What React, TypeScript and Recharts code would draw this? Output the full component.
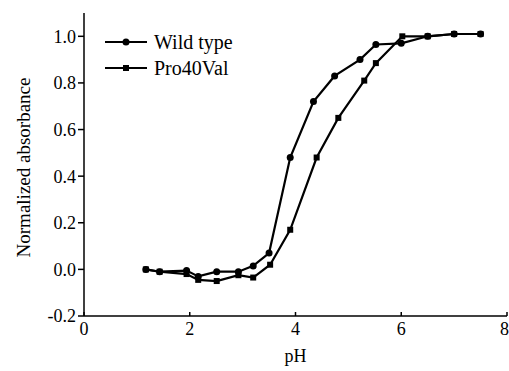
import { Label, Legend, Line, LineChart, XAxis, YAxis } from "recharts";

const wildPh = [1.17, 1.43, 1.94, 2.16, 2.51, 2.92, 3.2, 3.5, 3.9, 4.34, 4.74, 5.22, 5.52, 6.0, 6.5, 7.0, 7.5];
const wildAbs = [0.0, -0.01, -0.005, -0.03, -0.01, -0.01, 0.015, 0.07, 0.48, 0.72, 0.83, 0.9, 0.965, 0.97, 1.0, 1.01, 1.01];

const proPh = [1.17, 1.43, 1.94, 2.16, 2.51, 2.92, 3.2, 3.52, 3.9, 4.4, 4.81, 5.3, 5.52, 6.02, 6.5, 7.0, 7.5];
const proAbs = [0.0, -0.01, -0.02, -0.045, -0.05, -0.025, -0.035, 0.02, 0.17, 0.48, 0.65, 0.81, 0.885, 1.0, 1.0, 1.01, 1.01];

const xTicks = [0, 2, 4, 6, 8];
const yTicks = [-0.2, 0, 0.2, 0.4, 0.6, 0.8, 1.0];
const seriesNames = ["Wild type", "Pro40Val"];

const wildRows = wildPh.map((ph, i) => ({ ph, v: wildAbs[i] }));
const proRows = proPh.map((ph, i) => ({ ph, v: proAbs[i] }));

const FONT = "Liberation Serif, DejaVu Serif, serif";
const INK = "#000";

const tickStyle = { fill: INK, fontSize: 18, fontFamily: FONT };

function SquareDot(props: { cx?: number; cy?: number; index?: number }) {
  const { cx, cy, index } = props;
  if (cx == null || cy == null) return <g key={index} />;
  return <rect key={index} x={cx - 3} y={cy - 3} width={6} height={6} fill={INK} />;
}

function LegendBox() {
  const row = (name: string, square: boolean) => (
    <div key={name} style={{ display: "flex", alignItems: "center", height: 26 }}>
      <svg width={42} height={10} style={{ marginRight: 7 }}>
        <line x1={0} y1={5} x2={42} y2={5} stroke={INK} strokeWidth={2} />
        {square ? (
          <rect x={18} y={2} width={6} height={6} fill={INK} />
        ) : (
          <circle cx={21} cy={5} r={3.5} fill={INK} />
        )}
      </svg>
      <span style={{ fontFamily: FONT, fontSize: 20, color: INK, lineHeight: "26px" }}>{name}</span>
    </div>
  );
  return (
    <div>
      {row(seriesNames[0], false)}
      {row(seriesNames[1], true)}
    </div>
  );
}

export default function App() {
  return (
    <div style={{ position: "fixed", left: 0, top: 0, background: "#fff", fontFamily: FONT }}>
      <LineChart
        width={509}
        height={371}
        margin={{ top: 13, right: 2, bottom: 0, left: 0 }}
        style={{ fontFamily: FONT }}
      >
        <XAxis
          dataKey="ph"
          type="number"
          domain={[0, 8]}
          ticks={xTicks}
          allowDuplicatedCategory={false}
          height={55}
          stroke={INK}
          strokeWidth={1.5}
          tickSize={-4}
          tickMargin={10}
          tick={tickStyle}
        >
          <Label
            content={({ viewBox }: any) => (
              <text
                x={viewBox.x + viewBox.width / 2}
                y={362}
                textAnchor="middle"
                fontFamily={FONT}
                fontSize={18}
                fill={INK}
              >
                pH
              </text>
            )}
          />
        </XAxis>
        <XAxis xAxisId="top" orientation="top" type="number" domain={[0, 8]} height={0} tick={false} tickLine={false} stroke={INK} strokeWidth={1.5} />
        <YAxis
          type="number"
          domain={[-0.2, 1.1]}
          ticks={yTicks}
          width={84}
          stroke={INK}
          strokeWidth={1.5}
          tickSize={6}
          tickFormatter={(v) => Number(v).toFixed(1)}
          tick={tickStyle}
        >
          <Label
            content={({ viewBox }: any) => {
              const cx = 23;
              const cy = viewBox.y + viewBox.height / 2 + 3;
              return (
                <text
                  x={cx}
                  y={cy}
                  transform={`rotate(-90, ${cx}, ${cy})`}
                  textAnchor="middle"
                  dominantBaseline="central"
                  fontFamily={FONT}
                  fontSize={19}
                  fill={INK}
                >
                  Normalized absorbance
                </text>
              );
            }}
          />
        </YAxis>
        <YAxis yAxisId="right" orientation="right" width={0} tick={false} tickLine={false} stroke={INK} strokeWidth={1.5} />
        <Legend
          layout="vertical"
          verticalAlign="middle"
          align="center"
          content={() => <LegendBox />}
          wrapperStyle={{ top: 29, left: 105, width: "auto", height: "auto" }}
        />
        <Line
          data={wildRows}
          dataKey="v"
          name={seriesNames[0]}
          stroke={INK}
          strokeWidth={2.2}
          dot={{ r: 3.5, fill: INK, stroke: INK, strokeWidth: 0 }}
          isAnimationActive={false}
        />
        <Line
          data={proRows}
          dataKey="v"
          name={seriesNames[1]}
          stroke={INK}
          strokeWidth={2.2}
          dot={(p: any) => <SquareDot key={p.index} {...p} />}
          isAnimationActive={false}
        />
      </LineChart>
    </div>
  );
}
